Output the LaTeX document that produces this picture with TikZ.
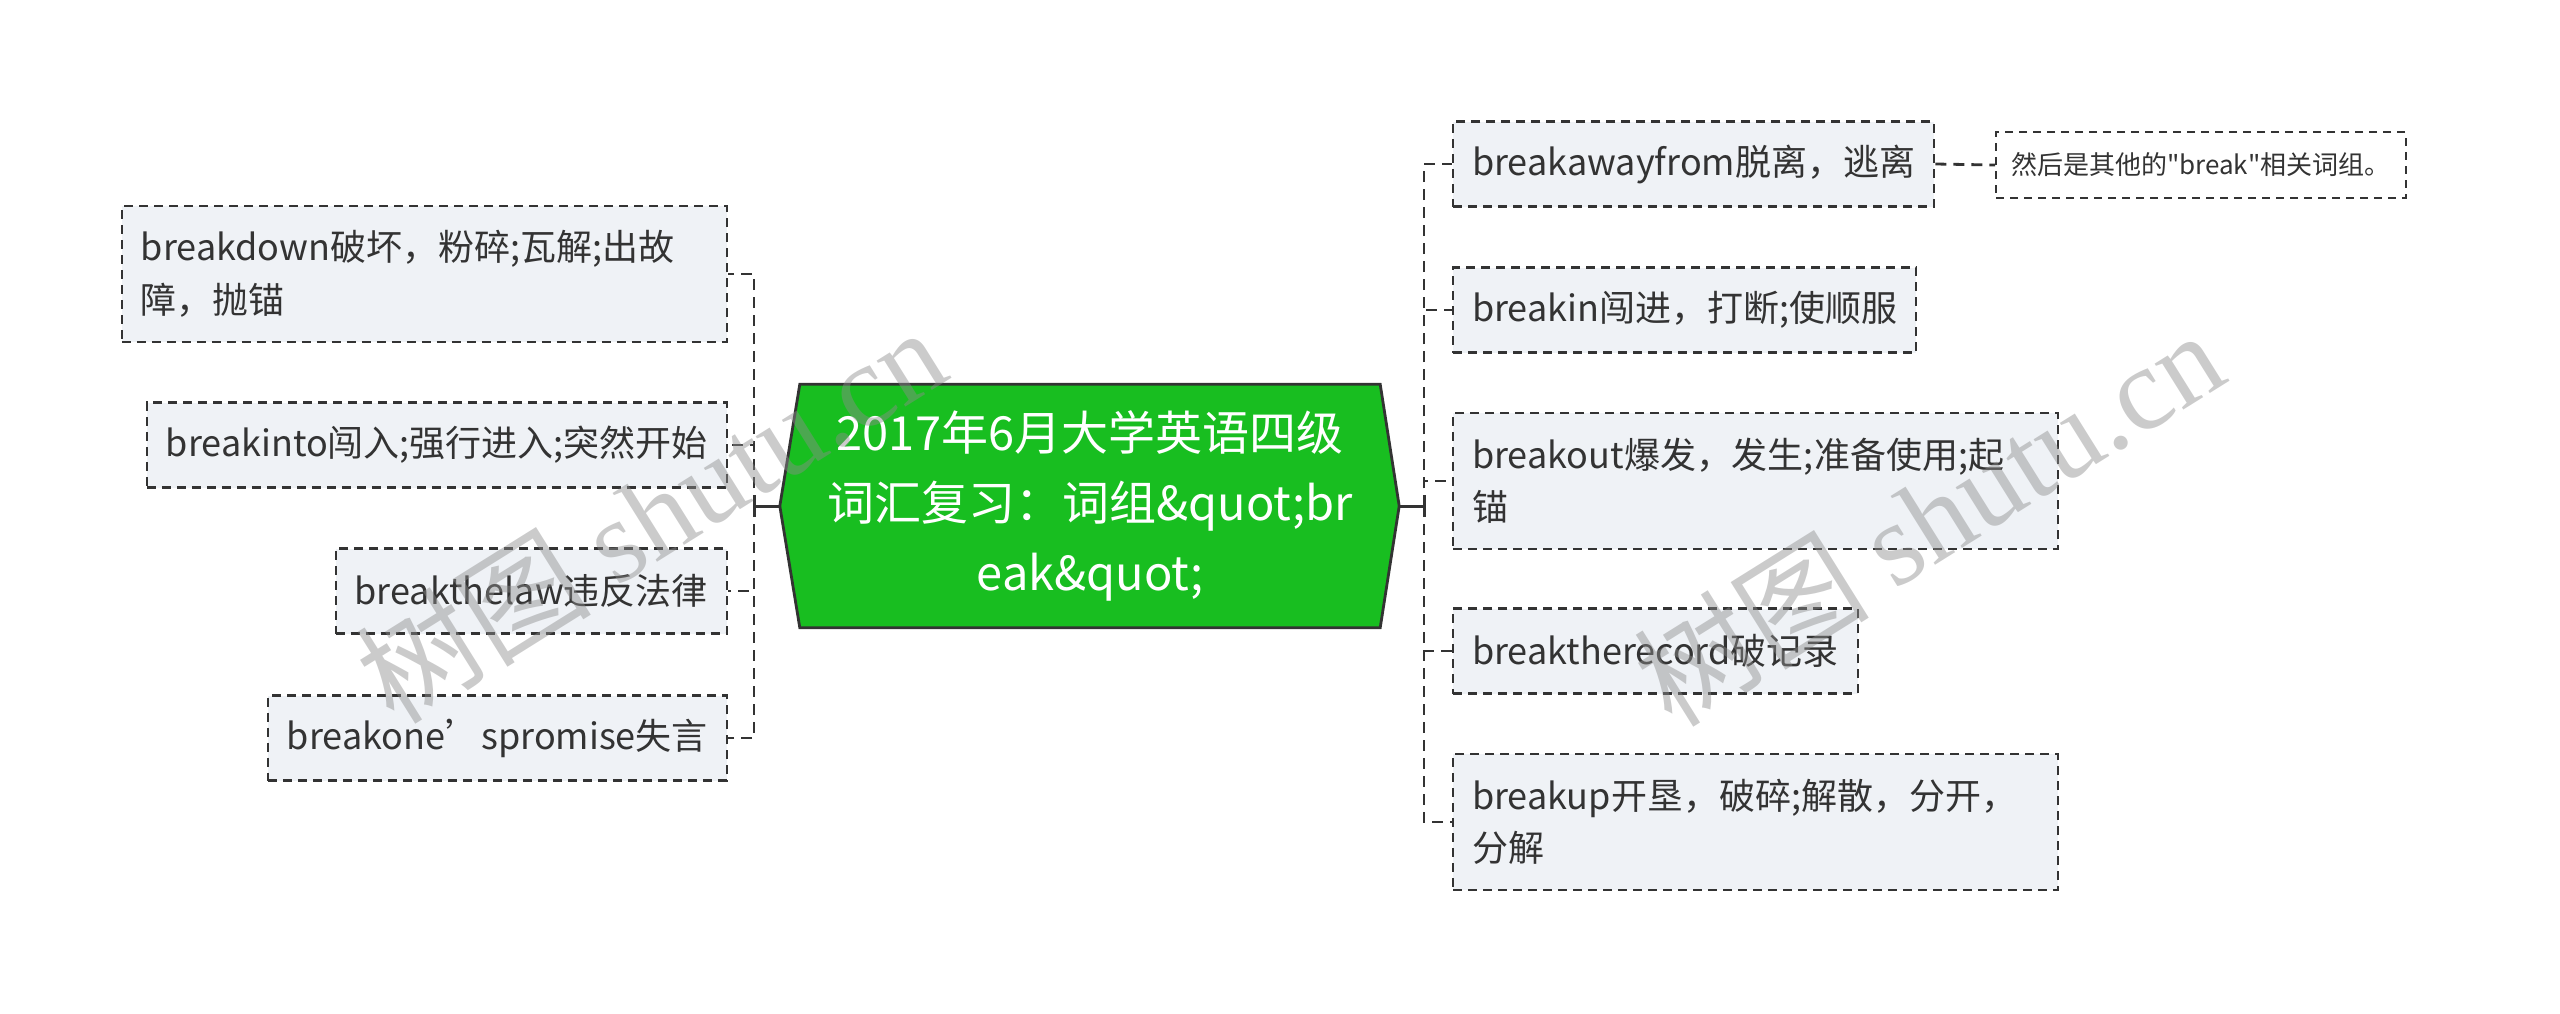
\documentclass[tikz,border=0pt]{standalone}
\usepackage{fontspec}
\setmainfont{Noto Sans CJK SC}
\newfontfamily\plaincjk{Noto Sans CJK SC}
\newfontfamily\wmlatin{Liberation Serif}
\usetikzlibrary{calc,backgrounds}
\definecolor{hexgreen}{RGB}{24,190,32}
\definecolor{edgegray}{RGB}{51,51,51}
\definecolor{boxfill}{RGB}{239,242,246}
\definecolor{wmgray}{RGB}{140,140,140}
\begin{document}
\begin{tikzpicture}[x=1pt,y=-1pt,
  leaf/.style={draw=edgegray, line width=2.2pt, dash pattern=on 9pt off 6pt,
    fill=boxfill, text=edgegray, font=\fontsize{36}{52.5}\selectfont,
    align=left, inner xsep=19pt, inner ysep=0pt},
  one/.style={minimum height=85pt},
  two/.style={minimum height=136pt, text width=567pt},
  note/.style={draw=edgegray, line width=2pt, dash pattern=on 8pt off 6pt,
    fill=white, text=edgegray, font=\plaincjk\fontsize{26}{38}\selectfont,
    inner xsep=15pt, inner ysep=0pt, minimum height=66pt},
  link/.style={draw=edgegray, line width=2.8pt, dash pattern=on 11pt off 7pt},
  stub/.style={draw=edgegray, line width=3pt},
  wm/.style={rotate=32, text=wmgray, opacity=0.45, inner sep=0pt}
]
\useasboundingbox (0,0) rectangle (2560,1013);

% central topic
\node[font=\fontsize{47}{70}\selectfont, text=white, align=center,
      minimum width=580pt, minimum height=243pt, inner sep=0pt] (c) at (1090,506)
  {2017年6月大学英语四级\\词汇复习：词组\&quot;br\\eak\&quot;};
\coordinate (hexR) at ([xshift=19pt]c.east);
\coordinate (hexL) at ([xshift=-20pt]c.west);
\begin{scope}[on background layer]
  \path[fill=hexgreen, draw=edgegray, line width=2.8pt, line join=miter]
    (c.north west) -- (c.north east) -- (hexR) -- (c.south east)
    -- (c.south west) -- (hexL) -- cycle;
\end{scope}

% right children
\node[leaf,one,anchor=west] (r1) at (1452,164) {breakawayfrom脱离，逃离};
\node[leaf,one,anchor=west] (r2) at (1452,310) {breakin闯进，打断;使顺服};
\node[leaf,two,anchor=west] (r3) at (1452,481) {breakout爆发，发生;准备使用;起\\锚};
\node[leaf,one,anchor=west] (r4) at (1452,651) {breaktherecord破记录};
\node[leaf,two,anchor=west] (r5) at (1452,822) {breakup开垦，破碎;解散，分开，\\分解};
\node[note,anchor=west] (nt) at (1995,165) {然后是其他的"break"相关词组。};

% left children
\node[leaf,two,anchor=east] (l1) at (728,274) {breakdown破坏，粉碎;瓦解;出故\\障，抛锚};
\node[leaf,one,anchor=east] (l2) at (728,445) {breakinto闯入;强行进入;突然开始};
\node[leaf,one,anchor=east] (l3) at (728,591) {breakthelaw违反法律};
\node[leaf,one,anchor=east] (l4) at (728,738) {breakone’spromise失言};

% connectors
\coordinate (rj) at (1424,506);
\coordinate (lj) at (754,506);
\draw[stub] (hexR) -- (rj);
\draw[stub] (hexL) -- (lj);
\draw[stub] ([yshift=-11pt]rj) -- ([yshift=11pt]rj);
\draw[stub] ([yshift=-11pt]lj) -- ([yshift=11pt]lj);
\foreach \n in {r1,r2,r3,r4,r5} \draw[link] (rj) |- (\n.west);
\foreach \n in {l1,l2,l3,l4} \draw[link] (lj) |- (\n.east);
\draw[link] (r1.east) -- (nt.west);

% watermarks
\node[wm] (wm1) at (650,514) {\fontsize{118}{118}\selectfont 树图 \wmlatin shutu.cn};
\node[wm] (wm2) at (1928,517) {\fontsize{118}{118}\selectfont 树图 \wmlatin shutu.cn};
\end{tikzpicture}
\end{document}
